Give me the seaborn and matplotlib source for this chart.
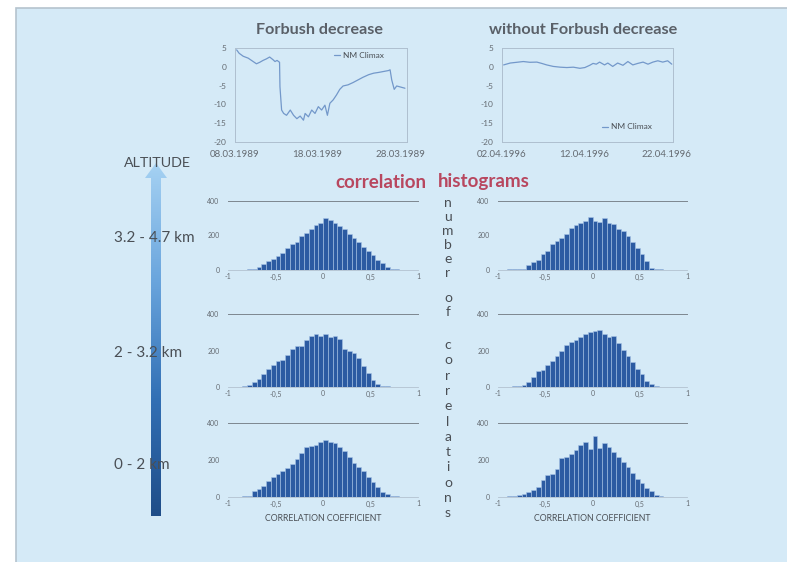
import numpy as np
import pandas as pd
import matplotlib
matplotlib.use("Agg")
import matplotlib.pyplot as plt
import seaborn as sns
from matplotlib.patches import Polygon, Rectangle
from matplotlib.colors import LinearSegmentedColormap

# ---- neutron monitor Climax, relative count rate (%) ----
fd_start = "1989-03-08"
fd_days = [0.2, 0.5, 1.0, 1.6, 2.2, 2.6, 3.0, 3.4, 3.8, 4.2, 4.6, 4.85, 5.1, 5.4,
           5.45, 5.65, 5.9, 6.25, 6.7, 7.1, 7.5, 7.9, 8.3, 8.5, 8.9, 9.3, 9.7,
           10.1, 10.5, 10.9, 11.2, 11.5, 11.9, 12.3, 12.7, 13.1, 13.7, 14.3,
           14.9, 15.5, 16.2, 16.8, 17.4, 18.0, 18.6, 18.8, 19.0, 19.3, 19.6,
           20.1, 20.6]
fd_values = [4.5, 3.6, 2.8, 2.3, 1.4, 0.8, 1.2, 1.7, 2.1, 2.6, 1.9, 1.4, 1.7, 1.2,
             -5.3, -11.5, -12.4, -12.9, -11.5, -12.9, -13.8, -13.1, -14.2, -12.4,
             -13.3, -11.5, -12.4, -10.6, -11.5, -10.2, -12.9, -9.7, -8.8, -7.5,
             -6.0, -5.1, -4.8, -4.2, -3.5, -2.8, -2.1, -1.7, -1.5, -1.25, -1.0,
             -0.8, -3.5, -6.0, -5.1, -5.4, -5.7]

quiet_start = "1996-04-02"
quiet_days = [0.2, 1.0, 1.8, 2.6, 3.4, 4.25, 4.85, 5.45, 6.25, 7.1, 7.9, 8.7, 9.5,
              10.1, 10.7, 11.1, 11.5, 11.9, 12.5, 12.9, 13.5, 14.1, 14.75, 15.35,
              15.95, 16.55, 17.2, 17.8, 18.4, 19.0, 19.6, 20.2, 20.7]
quiet_values = [0.5, 1.0, 1.2, 1.4, 1.2, 1.25, 0.9, 0.5, 0.1, -0.1, -0.2, -0.1,
                -0.4, -0.2, 0.4, 0.9, 0.7, 1.25, 0.5, 1.0, 0.1, 1.0, 0.4, 1.4,
                0.5, 0.9, 1.25, 0.7, 1.25, 1.6, 1.25, 1.6, 0.7]

fd_date_labels = ["08.03.1989", "18.03.1989", "28.03.1989"]
quiet_date_labels = ["02.04.1996", "12.04.1996", "22.04.1996"]
nm_ticks = [5, 0, -5, -10, -15, -20]

# ---- correlation histograms: counts in 40 bins on [-1, 1] ----
hist_fd_high = [0, 0, 0, 1, 3, 8, 20, 35, 50, 62, 80, 100, 125, 150, 165, 195,
                215, 240, 258, 275, 300, 290, 275, 255, 235, 210, 185, 160, 135,
                110, 85, 60, 38, 20, 8, 3, 1, 0, 0, 0]
hist_quiet_high = [0, 2, 3, 4, 5, 7, 28, 45, 58, 95, 110, 150, 168, 185, 210, 245,
                   258, 270, 285, 305, 285, 280, 300, 270, 265, 240, 225, 200, 160,
                   125, 90, 55, 12, 5, 3, 0, 0, 0, 0, 0]
hist_fd_mid = [0, 0, 2, 5, 12, 25, 45, 70, 100, 118, 142, 148, 178, 210, 225, 222,
               255, 280, 290, 278, 290, 272, 282, 262, 208, 200, 185, 160, 115, 75,
               40, 18, 8, 3, 1, 0, 0, 0, 0, 0]
hist_quiet_mid = [0, 1, 2, 3, 5, 12, 30, 55, 85, 95, 120, 140, 168, 200, 230, 248,
                  256, 275, 292, 300, 308, 312, 292, 274, 282, 240, 205, 170, 135,
                  100, 70, 35, 15, 6, 2, 0, 0, 0, 0, 0]
hist_fd_low = [0, 0, 2, 4, 6, 35, 42, 60, 88, 110, 125, 142, 158, 180, 205, 240,
               268, 275, 282, 298, 310, 300, 290, 272, 248, 215, 185, 160, 138, 110,
               80, 55, 28, 14, 7, 3, 0, 0, 0, 0]
hist_quiet_low = [0, 0, 3, 6, 10, 15, 28, 40, 55, 90, 118, 125, 150, 210, 218, 232,
                  255, 282, 300, 262, 328, 265, 290, 272, 245, 215, 190, 162, 130,
                  100, 75, 50, 30, 12, 4, 1, 0, 0, 0, 0]

corr_ticks = [-1, -0.5, 0, 0.5, 1]
corr_tick_labels = ["-1", "-0,5", "0", "0,5", "1"]
count_ticks = [0, 200, 400]
altitude_labels = ["3.2 - 4.7 km", "2 - 3.2 km", "0 - 2 km"]

# ---- style ----
sns.set_theme(style="white")
plt.rcParams["font.family"] = ["Lato", "DejaVu Sans"]

W, H = 787, 562
SLIDE = "#d5eaf7"
TEXT = "#4a4f55"
TICK = "#656b72"
LINE_C = "#7398ca"
BAR_C = "#2c5ba2"
ROSE = "#b8475f"

fig = plt.figure(figsize=(W / 100, H / 100), dpi=100)
fig.patch.set_facecolor("white")


def px_box(x0, y0, x1, y1):
    """Axes rectangle from pixel corners (top-left origin)."""
    return [x0 / W, 1 - y1 / H, (x1 - x0) / W, (y1 - y0) / H]


# slide background and annotation layer (pixel coordinates)
bg = fig.add_axes([0, 0, 1, 1])
bg.add_patch(Rectangle((16, 8), W + 20, H + 20, facecolor=SLIDE,
                       edgecolor="#b5c3ce", lw=1.2, zorder=0))

grad = np.linspace(0, 1, 256).reshape(-1, 1)
cmap = LinearSegmentedColormap.from_list(
    "altitude", ["#a6d2f3", "#6aa5dd", "#3270b5", "#1f4d88"])
im = bg.imshow(grad, extent=(144, 168, 516, 162), cmap=cmap, aspect="auto",
               zorder=1, interpolation="bilinear")
arrow = Polygon([(151, 516), (161, 516), (161, 178), (167, 178), (156, 163),
                 (145, 178), (151, 178)], closed=True, facecolor="none",
                edgecolor="none", transform=bg.transData)
bg.add_patch(arrow)
im.set_clip_path(arrow)
bg.set_xlim(0, W)
bg.set_ylim(H, 0)
bg.axis("off")

bg.text(157, 163, "ALTITUDE", ha="center", va="center", fontsize=10.3,
        color=TEXT, zorder=3)
for label, y in zip(altitude_labels, [238, 353, 465]):
    bg.text(114, y, label, ha="left", va="center", fontsize=11, color=TEXT,
            zorder=3)

bg.text(319, 30, "Forbush decrease", ha="center", va="center", fontsize=11.6,
        fontweight="bold", color="#5a6068")
bg.text(583, 30, "without Forbush decrease", ha="center", va="center",
        fontsize=11.7, fontweight="bold", color="#5a6068")
bg.text(426, 182, "correlation", ha="right", va="center", fontsize=13.5,
        fontweight="bold", color=ROSE)
bg.text(438, 182, "histograms", ha="left", va="center", fontsize=13.5,
        fontweight="bold", color=ROSE)

# vertical axis caption, one letter per line
vertical = ["number", "of", "correlations"]
word_top = [203, 298, 345]
word_pitch = [14.0, 14.0, 15.3]
for word, top, pitch in zip(vertical, word_top, word_pitch):
    for i, ch in enumerate(word):
        bg.text(448, top + i * pitch, ch, ha="center", va="center",
                fontsize=10, color=TEXT)


# ---- NM Climax time series ----
def nm_panel(box, start, days, values, labels, legend_pos):
    ax = fig.add_axes(px_box(*box))
    ax.set_facecolor("none")
    t0 = pd.Timestamp(start)
    frame = pd.DataFrame({
        "date": t0 + pd.to_timedelta(days, unit="D"),
        "rate": values,
    })
    sns.lineplot(data=frame, x="date", y="rate", ax=ax, color=LINE_C, lw=0.9,
                 label="NM Climax")
    ax.set_xlim(t0, t0 + pd.Timedelta(days=20.85))
    ax.set_ylim(-20, 5)
    ax.set_yticks(nm_ticks)
    ax.set_yticklabels([str(v) for v in nm_ticks])
    ax.set_xticks([t0 + pd.Timedelta(days=10 * i) for i in range(3)])
    ax.set_xticklabels(labels)
    ax.tick_params(axis="y", labelsize=6, colors=TICK, length=0, pad=6)
    ax.tick_params(axis="x", labelsize=7, colors=TICK, length=0, pad=6)
    ax.set_xlabel("")
    ax.set_ylabel("")
    for s in ax.spines.values():
        s.set_color("#aebfcf")
        s.set_linewidth(0.7)
    leg = ax.legend(loc="center", bbox_to_anchor=legend_pos, frameon=False,
                    fontsize=6, handlelength=0.8, handletextpad=0.3,
                    borderpad=0)
    for t in leg.get_texts():
        t.set_color(TEXT)
    return ax


nm_panel((235, 48, 407, 142), fd_start, fd_days, fd_values, fd_date_labels,
         (0.72, 0.92))
nm_panel((502, 48, 673, 142), quiet_start, quiet_days, quiet_values,
         quiet_date_labels, (0.73, 0.16))

# ---- correlation histograms ----
n_bins = 40
centers = np.linspace(-1, 1, n_bins + 1)[:-1] + 1.0 / n_bins

rows = [(201, 270), (314, 387), (423, 497)]
cols = [(228, 418), (498, 687)]
grid = [[hist_fd_high, hist_quiet_high],
        [hist_fd_mid, hist_quiet_mid],
        [hist_fd_low, hist_quiet_low]]

for r, (y0, y1) in enumerate(rows):
    for c, (x0, x1) in enumerate(cols):
        ax = fig.add_axes(px_box(x0, y0, x1, y1))
        ax.set_facecolor("none")
        counts = pd.DataFrame({"coef": centers, "count": grid[r][c]})
        sns.histplot(data=counts, x="coef", weights="count", bins=n_bins,
                     binrange=(-1, 1), ax=ax, color=BAR_C,
                     edgecolor="#a7c3e6", linewidth=0.4, alpha=1)
        ax.set_xlim(-1, 1)
        ax.set_ylim(0, 400)
        ax.set_xticks(corr_ticks)
        ax.set_xticklabels(corr_tick_labels)
        ax.set_yticks(count_ticks)
        ax.set_yticklabels([str(v) for v in count_ticks])
        ax.tick_params(axis="both", labelsize=5, colors=TICK, length=0)
        ax.tick_params(axis="x", pad=2.5)
        ax.tick_params(axis="y", pad=6)
        ax.set_ylabel("")
        ax.set_xlabel("")
        ax.spines["left"].set_visible(False)
        ax.spines["right"].set_visible(False)
        ax.spines["top"].set_color("#7d868f")
        ax.spines["top"].set_linewidth(0.7)
        ax.spines["bottom"].set_color("#b3c2d0")
        ax.spines["bottom"].set_linewidth(0.6)
        if r == 2:
            ax.set_xlabel("CORRELATION COEFFICIENT", fontsize=6.3, color=TEXT,
                          labelpad=5)

fig.savefig("out.png", dpi=100, facecolor=fig.get_facecolor())
